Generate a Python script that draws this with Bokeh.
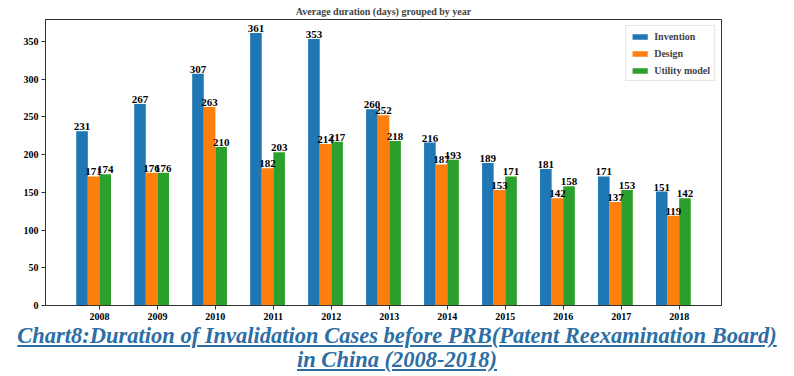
from bokeh.plotting import figure
from bokeh.models import Range1d, FixedTicker, ColumnDataSource, Div, LabelSet
from bokeh.layouts import column
from bokeh.embed import file_html
from bokeh.resources import INLINE

years = ["2008", "2009", "2010", "2011", "2012", "2013", "2014", "2015", "2016", "2017", "2018"]
invention = [231, 267, 307, 361, 353, 260, 216, 189, 181, 171, 151]
design = [171, 176, 263, 182, 214, 252, 187, 153, 142, 137, 119]
utility = [174, 176, 210, 203, 217, 218, 193, 171, 158, 153, 142]
series_names = ["Invention", "Design", "Utility model"]
colors = ["#1f77b4", "#ff7f0e", "#2ca02c"]
offsets = [-0.3, -0.1, 0.1]
caption_line1 = "Chart8:Duration of Invalidation Cases before PRB(Patent Reexamination Board)"
caption_line2 = "in China (2008-2018)"

SERIF = "Liberation Serif"

p = figure(width=794, height=322, output_backend="svg", toolbar_location=None,
           x_range=Range1d(-0.93, 10.73), y_range=Range1d(0, 379),
           min_border_left=45, min_border_right=73, min_border_top=19, min_border_bottom=17)
p.title.text = "Average duration (days) grouped by year"
p.title.align = "center"
p.title.text_font = SERIF
p.title.text_font_size = "10px"
p.title.text_font_style = "bold"
p.title.standoff = 6
p.title.offset = 0

idx = list(range(len(years)))
for vals, name, col, off in zip([invention, design, utility], series_names, colors, offsets):
    src = ColumnDataSource(dict(x=[i + off for i in idx], top=vals, lab=[str(v) for v in vals]))
    p.vbar(x="x", top="top", width=0.2, bottom=0, source=src, fill_color=col,
           line_color=None, legend_label=name)
    labels = LabelSet(x="x", y="top", text="lab", source=src, text_align="center",
                      text_baseline="bottom", y_offset=1, text_font=SERIF,
                      text_font_size="11px", text_font_style="bold", text_color="black")
    p.add_layout(labels)

p.xgrid.visible = False
p.ygrid.visible = False
p.outline_line_color = "#333333"
p.outline_line_width = 1

p.xaxis.ticker = FixedTicker(ticks=idx)
p.xaxis.major_label_overrides = {i: y for i, y in zip(idx, years)}
p.yaxis.ticker = FixedTicker(ticks=[0, 50, 100, 150, 200, 250, 300, 350])
for ax in (p.xaxis, p.yaxis):
    ax.axis_line_color = "#333333"
    ax.major_tick_line_color = "#333333"
    ax.major_tick_out = 4
    ax.major_tick_in = 0
    ax.minor_tick_line_color = None
    ax.major_label_text_font = SERIF
    ax.major_label_text_font_size = "10px"
    ax.major_label_text_font_style = "bold"
    ax.major_label_text_color = "black"
    ax.major_label_standoff = 3

p.legend.location = "top_right"
p.legend.label_text_font = SERIF
p.legend.label_text_font_size = "10px"
p.legend.label_text_font_style = "bold"
p.legend.glyph_width = 19
p.legend.glyph_height = 7
p.legend.spacing = 5
p.legend.padding = 4
p.legend.margin = 6
p.legend.border_line_color = "#cccccc"
p.legend.label_height = 12

caption = Div(
    text=('<div style="font-family: \'Liberation Serif\', serif; font-style: italic; font-weight: bold; '
          'font-size: 22.5px; color: #2d6ea5; text-decoration: underline; text-align: center; '
          'line-height: 24px; padding-top: 2px; width: 794px;">'
          + caption_line1 + '<br>' + caption_line2 + '</div>'),
    width=794, margin=(0, 0, 0, 0))

layout = column(p, caption, spacing=0)
open("out.html", "w").write(file_html(layout, INLINE))
